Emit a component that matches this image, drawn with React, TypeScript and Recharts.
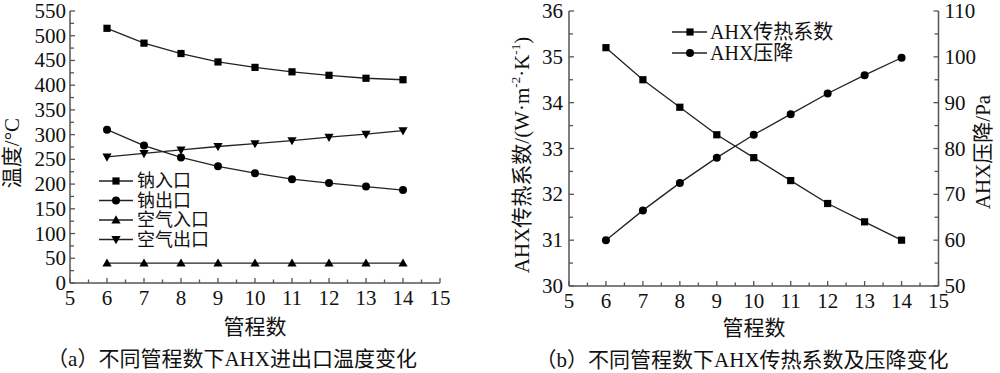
import React from 'react';
import { LineChart, Line, XAxis, YAxis, Legend } from 'recharts';

// ---------- data ----------
const tubePasses = [6, 7, 8, 9, 10, 11, 12, 13, 14];
const sodiumInlet = [515, 485, 464, 447, 436, 427, 420, 414, 411];
const sodiumOutlet = [310, 278, 254, 236, 222, 210, 202, 195, 188];
const airInlet = [40, 40, 40, 40, 40, 40, 40, 40, 40];
const airOutlet = [255, 262, 269, 276, 282, 288, 295, 301, 308];
const heatTransferCoef = [35.2, 34.5, 33.9, 33.3, 32.8, 32.3, 31.8, 31.4, 31.0];
const pressureDrop = [60, 66.5, 72.5, 78, 83, 87.5, 92, 96, 99.8];

const xMajorTicks = [5, 6, 7, 8, 9, 10, 11, 12, 13, 14, 15];
const xMinorTicks = [5.5, 6.5, 7.5, 8.5, 9.5, 10.5, 11.5, 12.5, 13.5, 14.5];
const tempMajorTicks = [0, 50, 100, 150, 200, 250, 300, 350, 400, 450, 500, 550];
const tempMinorTicks = [25, 75, 125, 175, 225, 275, 325, 375, 425, 475, 525];
const coefMajorTicks = [30, 31, 32, 33, 34, 35, 36];
const coefMinorTicks = [30.5, 31.5, 32.5, 33.5, 34.5, 35.5];
const dropMajorTicks = [50, 60, 70, 80, 90, 100, 110];
const dropMinorTicks = [55, 65, 75, 85, 95, 105];

const leftNames = ['钠入口', '钠出口', '空气入口', '空气出口'];
const rightNames = ['AHX传热系数', 'AHX压降'];

const leftData = tubePasses.map((n, i) => ({
  n,
  sodiumInlet: sodiumInlet[i],
  sodiumOutlet: sodiumOutlet[i],
  airInlet: airInlet[i],
  airOutlet: airOutlet[i],
}));
const rightData = tubePasses.map((n, i) => ({
  n,
  coef: heatTransferCoef[i],
  drop: pressureDrop[i],
}));

// ---------- style ----------
const FONT = "'Liberation Serif','Times New Roman','Noto Sans CJK SC',serif";
const AXIS = '#555';
const LINE = '#222';
const TEXT = '#111';
const FS = 21;

const sorted = (a: number[], b: number[]) => [...a, ...b].sort((p, q) => p - q);

type Shape = 'square' | 'circle' | 'up' | 'down';

const Marker = ({ shape, cx, cy }: { shape: Shape; cx: number; cy: number }) => {
  if (shape === 'square') return <rect x={cx - 3.6} y={cy - 3.6} width={7.2} height={7.2} fill="#000" />;
  if (shape === 'circle') return <circle cx={cx} cy={cy} r={4} fill="#000" />;
  if (shape === 'up')
    return <polygon points={`${cx},${cy - 4.8} ${cx - 4.6},${cy + 3.4} ${cx + 4.6},${cy + 3.4}`} fill="#000" />;
  return <polygon points={`${cx},${cy + 4.8} ${cx - 4.6},${cy - 3.4} ${cx + 4.6},${cy - 3.4}`} fill="#000" />;
};

const makeDot = (shape: Shape) => (props: any) => {
  const { cx, cy, index } = props;
  if (cx == null || cy == null) return <g key={`d${index}`} />;
  return (
    <g key={`d${index}`}>
      <Marker shape={shape} cx={cx} cy={cy} />
    </g>
  );
};

const xTick = (majors: number[], labelDy: number) => (props: any) => {
  const { x, y, payload } = props;
  const v = payload.value;
  const major = majors.includes(v);
  return (
    <g>
      <line x1={x} x2={x} y1={y} y2={y - (major ? 5 : 3.5)} stroke={AXIS} strokeWidth={1.3} />
      {major && (
        <text x={x} y={y + labelDy} textAnchor="middle" fontSize={FS} fontFamily={FONT} fill={TEXT}>
          {v}
        </text>
      )}
    </g>
  );
};

const yTickLeft = (majors: number[], gap: number) => (props: any) => {
  const { x, y, payload } = props;
  const v = payload.value;
  const major = majors.includes(v);
  return (
    <g>
      <line x1={x} x2={x + (major ? 5 : 4)} y1={y} y2={y} stroke={AXIS} strokeWidth={1.3} />
      {major && (
        <text x={x - gap} y={y} dy={7} textAnchor="end" fontSize={FS} fontFamily={FONT} fill={TEXT}>
          {v}
        </text>
      )}
    </g>
  );
};

const yTickRight = (majors: number[], gap: number) => (props: any) => {
  const { x, y, payload } = props;
  const v = payload.value;
  const major = majors.includes(v);
  return (
    <g>
      <line x1={x} x2={x - (major ? 5 : 4)} y1={y} y2={y} stroke={AXIS} strokeWidth={1.3} />
      {major && (
        <text x={x + gap} y={y} dy={7} textAnchor="start" fontSize={FS} fontFamily={FONT} fill={TEXT}>
          {v}
        </text>
      )}
    </g>
  );
};

const makeLegend =
  (
    names: string[],
    shapes: Shape[],
    rowY: number[],
    lineX: [number, number],
    markX: number,
    textX: number,
    w: number,
    h: number,
    fs: number
  ) =>
  (props: any) => {
    const payload: any[] = [...(props.payload || [])].sort(
      (a: any, b: any) => names.indexOf(a.value) - names.indexOf(b.value)
    );
    return (
      <svg width={w} height={h} style={{ display: 'block', overflow: 'visible' }}>
        {payload.map((entry: any, i: number) => {
          const k = names.indexOf(entry.value);
          return (
            <g key={`lg${i}`}>
              <line x1={lineX[0]} x2={lineX[1]} y1={rowY[k]} y2={rowY[k]} stroke={LINE} strokeWidth={1.3} />
              <Marker shape={shapes[k]} cx={markX} cy={rowY[k]} />
              <text x={textX} y={rowY[k]} dy={fs * 0.36} fontSize={fs} fontFamily={FONT} fill={TEXT}>
                {entry.value}
              </text>
            </g>
          );
        })}
      </svg>
    );
  };

const leftShapes: Shape[] = ['square', 'circle', 'up', 'down'];
const rightShapes: Shape[] = ['square', 'circle'];

export default function App() {
  return (
    <div style={{ position: 'absolute', left: 0, top: 0, width: 1000, height: 373, background: '#fff', overflow: 'hidden' }}>
      {/* Left chart */}
      <div style={{ position: 'absolute', left: 0, top: 0 }}>
        <LineChart width={480} height={373} data={leftData} margin={{ top: 11, right: 40, bottom: 0, left: 0 }}>
          <XAxis
            dataKey="n"
            type="number"
            domain={[5, 15]}
            ticks={sorted(xMajorTicks, xMinorTicks)}
            interval={0}
            height={90}
            tickSize={0}
            tickMargin={0}
            tickLine={false}
            axisLine={{ stroke: AXIS, strokeWidth: 1.5 }}
            tick={xTick(xMajorTicks, 22)}
          />
          <YAxis
            type="number"
            domain={[0, 550]}
            ticks={sorted(tempMajorTicks, tempMinorTicks)}
            interval={0}
            width={70}
            tickSize={0}
            tickMargin={0}
            tickLine={false}
            axisLine={{ stroke: AXIS, strokeWidth: 1.5 }}
            tick={yTickLeft(tempMajorTicks, 4)}
          />
          <Legend
            layout="vertical"
            align="center"
            verticalAlign="middle"
            itemSorter={null as any}
            wrapperStyle={{ left: 95, top: 170, width: 180, height: 85 }}
            content={makeLegend(leftNames, leftShapes, [11, 30.5, 50, 69.5], [4, 38], 21, 42, 180, 85, 18)}
          />
          <Line dataKey="sodiumInlet" name={leftNames[0]} stroke={LINE} strokeWidth={1.3} dot={makeDot('square')} isAnimationActive={false} />
          <Line dataKey="sodiumOutlet" name={leftNames[1]} stroke={LINE} strokeWidth={1.3} dot={makeDot('circle')} isAnimationActive={false} />
          <Line dataKey="airInlet" name={leftNames[2]} stroke={LINE} strokeWidth={1.3} dot={makeDot('up')} isAnimationActive={false} />
          <Line dataKey="airOutlet" name={leftNames[3]} stroke={LINE} strokeWidth={1.3} dot={makeDot('down')} isAnimationActive={false} />
        </LineChart>
      </div>

      {/* Right chart */}
      <div style={{ position: 'absolute', left: 480, top: 0 }}>
        <LineChart width={520} height={373} data={rightData} margin={{ top: 11, right: 0, bottom: 0, left: 0 }}>
          <XAxis
            dataKey="n"
            type="number"
            domain={[5, 15]}
            ticks={sorted(xMajorTicks, xMinorTicks)}
            interval={0}
            height={87}
            tickSize={0}
            tickMargin={0}
            tickLine={false}
            axisLine={{ stroke: AXIS, strokeWidth: 1.5 }}
            tick={xTick(xMajorTicks, 22)}
          />
          <YAxis
            yAxisId="left"
            orientation="left"
            type="number"
            domain={[30, 36]}
            ticks={sorted(coefMajorTicks, coefMinorTicks)}
            interval={0}
            width={89}
            tickSize={0}
            tickMargin={0}
            tickLine={false}
            axisLine={{ stroke: AXIS, strokeWidth: 1.5 }}
            tick={yTickLeft(coefMajorTicks, 6)}
          />
          <YAxis
            yAxisId="right"
            orientation="right"
            type="number"
            domain={[50, 110]}
            ticks={sorted(dropMajorTicks, dropMinorTicks)}
            interval={0}
            width={61.5}
            tickSize={0}
            tickMargin={0}
            tickLine={false}
            axisLine={{ stroke: AXIS, strokeWidth: 1.5 }}
            tick={yTickRight(dropMajorTicks, 6)}
          />
          <Legend
            layout="vertical"
            align="center"
            verticalAlign="middle"
            itemSorter={null as any}
            wrapperStyle={{ left: 180, top: 20, width: 220, height: 50 }}
            content={makeLegend(rightNames, rightShapes, [12, 33], [12, 47], 30, 50, 220, 50, 20)}
          />
          <Line yAxisId="left" dataKey="coef" name={rightNames[0]} stroke={LINE} strokeWidth={1.3} dot={makeDot('square')} isAnimationActive={false} />
          <Line yAxisId="right" dataKey="drop" name={rightNames[1]} stroke={LINE} strokeWidth={1.3} dot={makeDot('circle')} isAnimationActive={false} />
        </LineChart>
      </div>

      {/* Titles and captions */}
      <svg width={1000} height={373} style={{ position: 'absolute', left: 0, top: 0, pointerEvents: 'none' }}>
        <g fontFamily={FONT} fontSize={FS} fill={TEXT}>
          <text transform="translate(12,153) rotate(-90)" textAnchor="middle" dominantBaseline="central">
            温度/°C
          </text>
          <text x={255} y={334} textAnchor="middle">
            管程数
          </text>
          <text x={232} y={366} textAnchor="middle">
            （a）不同管程数下AHX进出口温度变化
          </text>

          <text transform="translate(522,155) rotate(-90)" textAnchor="middle" dominantBaseline="central">
            AHX传热系数/(W·m
            <tspan dy={-7} fontSize={13}>-2</tspan>
            <tspan dy={7}>·K</tspan>
            <tspan dy={-7} fontSize={13}>-1</tspan>
            <tspan dy={7}>)</tspan>
          </text>
          <text transform="translate(983,152) rotate(-90)" textAnchor="middle" dominantBaseline="central">
            AHX压降/Pa
          </text>
          <text x={754} y={335} textAnchor="middle">
            管程数
          </text>
          <text x={742} y={367} textAnchor="middle">
            （b）不同管程数下AHX传热系数及压降变化
          </text>
        </g>
      </svg>
    </div>
  );
}
